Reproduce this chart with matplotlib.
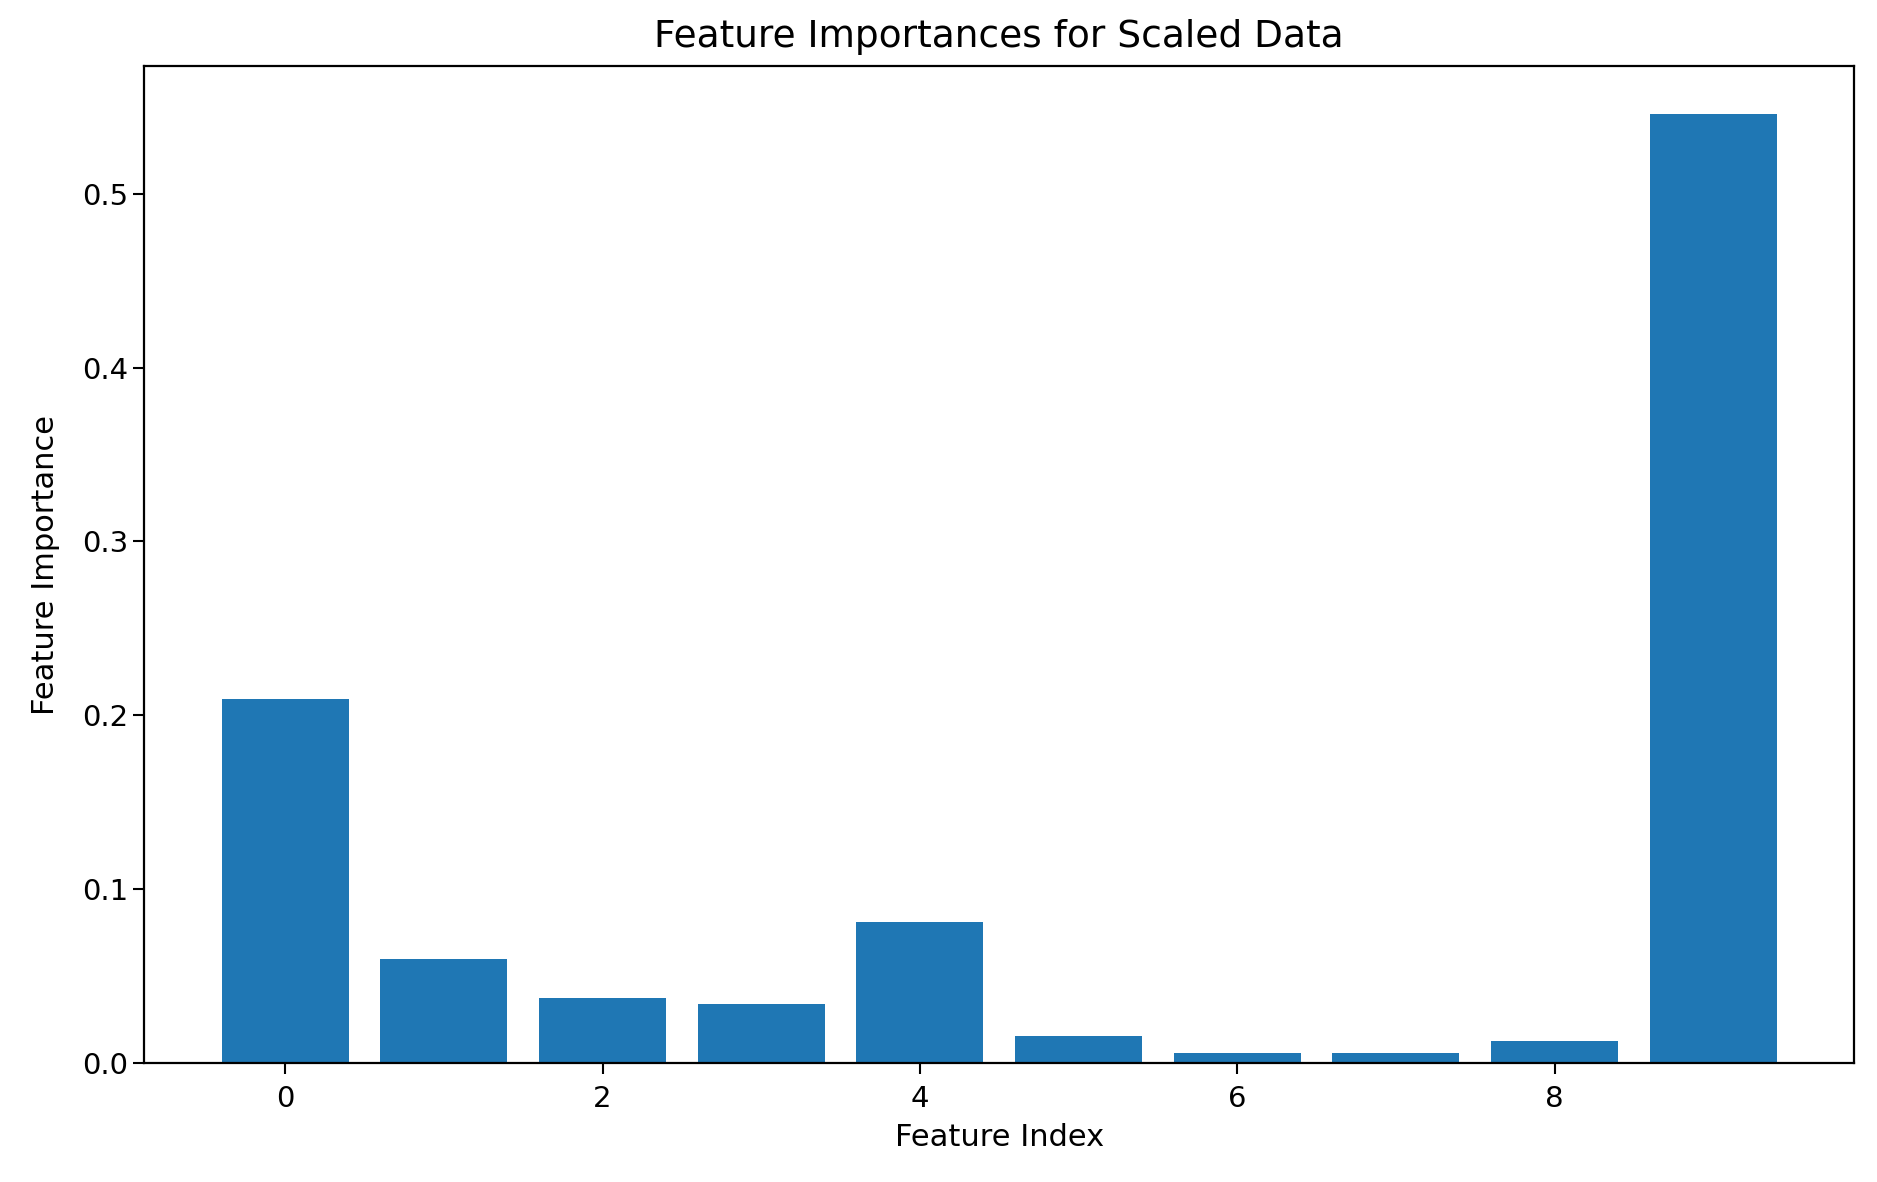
import matplotlib
matplotlib.use("Agg")
import matplotlib.pyplot as plt
import numpy as np

feature_index = list(range(10))
importances = [0.2095, 0.0598, 0.0371, 0.0337, 0.0810, 0.0158, 0.0055, 0.0055, 0.0124, 0.5460]

fig = plt.figure(figsize=(18.77, 11.82), dpi=100)
ax = fig.add_axes([0.0767, 0.1007, 0.9113, 0.8433])
ax.bar(feature_index, importances, color="#1f77b4")
ax.set_title("Feature Importances for Scaled Data", fontsize=27, pad=14)
ax.set_xlabel("Feature Index", fontsize=22, labelpad=7)
ax.set_ylabel("Feature Importance", fontsize=22, labelpad=16)
ax.tick_params(axis="both", labelsize=21, length=8, width=1.5)
ax.tick_params(axis="x", pad=8)
for s in ax.spines.values():
    s.set_linewidth(1.6)
fig.savefig("out.png", dpi=100)
